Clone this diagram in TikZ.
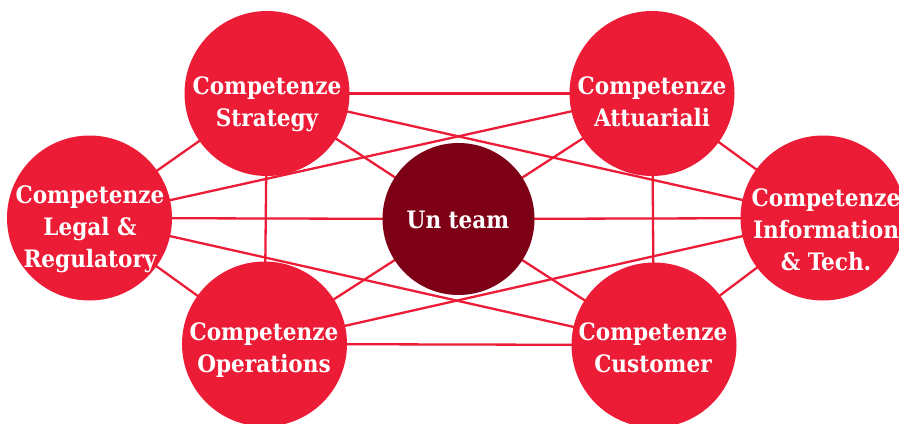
\documentclass[tikz,border=0pt]{standalone}
\usepackage{fontspec}
\setmainfont{DejaVu Serif Condensed}[BoldFont={DejaVu Serif Condensed Bold}]
\definecolor{cred}{HTML}{EC1C36}
\definecolor{cdark}{HTML}{7E0017}
\begin{document}
\begin{tikzpicture}[x=1pt,y=-1pt,
  comp/.style={circle,fill=cred,minimum size=165pt,inner sep=0pt},
  hub/.style={circle,fill=cdark,minimum size=152pt,inner sep=0pt},
  lbl/.style={text=white,font=\bfseries\fontsize{24}{32}\selectfont,align=center,inner sep=0pt,anchor=north},
  link/.style={draw=cred,line width=2.3pt}]
\useasboundingbox (0,0) rectangle (899,423);
% circle positions
\coordinate (pS) at (267,93.5);
\coordinate (pA) at (652,93.5);
\coordinate (pL) at (89.5,218);
\coordinate (pI) at (823,218);
\coordinate (pO) at (264.5,344);
\coordinate (pC) at (654,345);
\coordinate (pU) at (458.5,219);
% connectors (centre to centre, under the circles)
\draw[link] (pS) -- (pA);
\draw[link] (pS) -- (pI);
\draw[link] (pS) -- (pU);
\draw[link] (pS) -- (pL);
\draw[link] (pS) -- (pO);
\draw[link] (pA) -- (pL);
\draw[link] (pA) -- (pU);
\draw[link] (pA) -- (pI);
\draw[link] (pA) -- (pC);
\draw[link] (pL) -- (pU);
\draw[link] (pU) -- (pI);
\draw[link] (pL) -- (pC);
\draw[link] (pL) -- (pO);
\draw[link] (pO) -- (pU);
\draw[link] (pO) -- (pI);
\draw[link] (pO) -- (pC);
\draw[link] (pC) -- (pU);
\draw[link] (pC) -- (pI);
% circles
\node[comp] (S) at (pS) {};
\node[comp] (A) at (pA) {};
\node[comp] (L) at (pL) {};
\node[comp] (I) at (pI) {};
\node[comp] (O) at (pO) {};
\node[comp] (C) at (pC) {};
\node[hub] (U) at (pU) {};
% labels
\node[lbl] (tS) at (267,76) {Competenze\\Strategy};
\node[lbl] (tA) at (652,76) {Competenze\\Attuariali};
\node[lbl] (tL) at (90,185) {Competenze\\Legal \&\\Regulatory};
\node[lbl] (tI) at (826,188) {Competenze\\Information\\\& Tech.};
\node[lbl] (tO) at (264,322) {Competenze\\Operations};
\node[lbl] (tC) at (653,322) {Competenze\\Customer};
\node[lbl] (tU) at (458,211) {Un team};
\end{tikzpicture}
\end{document}
